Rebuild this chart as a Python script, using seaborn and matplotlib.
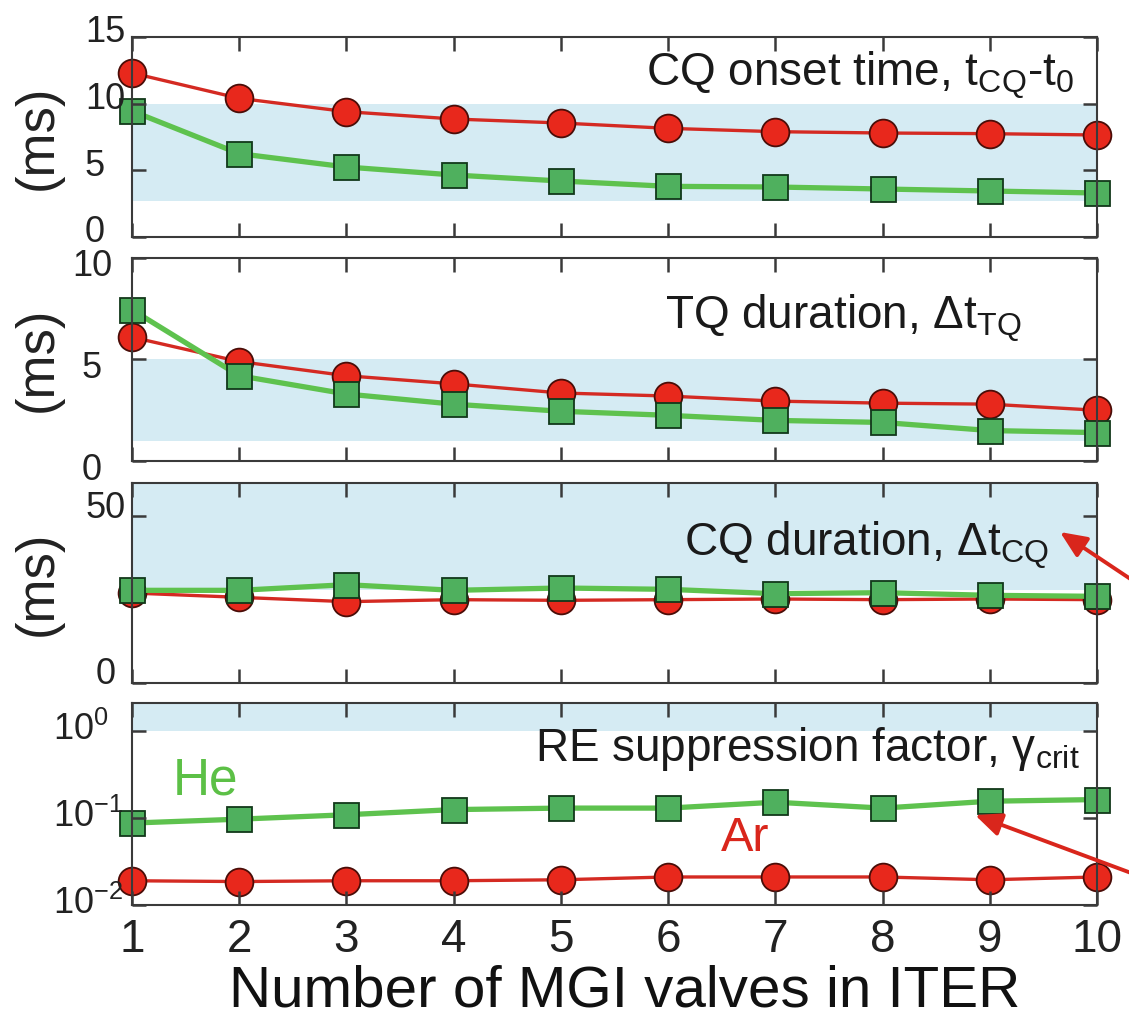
import matplotlib
matplotlib.use("Agg")
import matplotlib.pyplot as plt
from matplotlib.patches import FancyArrowPatch
from matplotlib.ticker import NullLocator
from matplotlib.transforms import ScaledTranslation
import seaborn as sns

# ---- data -----------------------------------------------------------------
valves = [1, 2, 3, 4, 5, 6, 7, 8, 9, 10]

cq_onset_ar = [12.3, 10.4, 9.4, 8.85, 8.55, 8.15, 7.9, 7.8, 7.75, 7.65]
cq_onset_he = [9.45, 6.25, 5.25, 4.65, 4.2, 3.8, 3.75, 3.6, 3.45, 3.3]

tq_dur_ar = [6.1, 4.9, 4.2, 3.8, 3.35, 3.2, 2.95, 2.85, 2.8, 2.5]
tq_dur_he = [7.45, 4.2, 3.3, 2.8, 2.45, 2.25, 2.0, 1.9, 1.5, 1.4]

cq_dur_ar = [27.0, 25.7, 24.4, 25.0, 24.8, 25.0, 25.2, 25.0, 25.2, 25.0]
cq_dur_he = [27.8, 27.8, 29.5, 27.8, 28.5, 28.1, 26.8, 27.1, 26.3, 26.0]

gamma_ar = [0.019, 0.0186, 0.019, 0.019, 0.0195, 0.021, 0.021, 0.021, 0.0195, 0.021]
gamma_he = [0.0875, 0.097, 0.109, 0.125, 0.13, 0.13, 0.152, 0.13, 0.156, 0.163]

# acceptable windows (shaded bands)
onset_window = (2.7, 10.0)
tq_window = (1.0, 5.0)
cq_window = (28.0, 60.0)
gamma_window = (1.0, 2.1)

panel_titles = [
    r"CQ onset time, t$_{\mathregular{CQ}}$-t$_{\mathregular{0}}$",
    r"TQ duration, Δt$_{\mathregular{TQ}}$",
    r"CQ duration, Δt$_{\mathregular{CQ}}$",
    r"RE suppression factor, γ$_{\mathregular{crit}}$",
]
x_label = "Number of MGI valves in ITER"
y_label = "(ms)"

# ---- style ----------------------------------------------------------------
sns.set_theme(style="ticks")
plt.rcParams["font.family"] = ["Liberation Sans", "DejaVu Sans"]
plt.rcParams["mathtext.fontset"] = "custom"
plt.rcParams["mathtext.rm"] = "Liberation Sans"
plt.rcParams["mathtext.it"] = "Liberation Sans:italic"
plt.rcParams["mathtext.bf"] = "Liberation Sans:bold"
plt.rcParams["axes.unicode_minus"] = True

RED_LINE = "#d42a22"
RED_FILL = "#e8281c"
RED_EDGE = "#4a0d08"
GRN_LINE = "#5ec24e"
GRN_FILL = "#4fb05e"
GRN_EDGE = "#12381a"
BAND = "#d5ebf3"
SPINE = "#3a3a3a"
ARROW = "#d9261c"

W, H = 1129, 1022
fig = plt.figure(figsize=(W / 100, H / 100), dpi=100)
fig.patch.set_facecolor("white")

left, right = 132, 1097
panels_px = [(37, 237), (258, 461), (483, 683), (703, 905)]
axes = []
for top, bot in panels_px:
    ax = fig.add_axes([left / W, (H - bot) / H, (right - left) / W, (bot - top) / H])
    axes.append(ax)

series = [
    (cq_onset_ar, cq_onset_he, onset_window, (0, 15), [0, 5, 10, 15]),
    (tq_dur_ar, tq_dur_he, tq_window, (0, 10), [0, 5, 10]),
    (cq_dur_ar, cq_dur_he, cq_window, (0, 60), [0, 50]),
    (gamma_ar, gamma_he, gamma_window, (0.01, 2.1), [0.01, 0.1, 1]),
]

title_pos = [(0.977, 0.81), (0.922, 0.70), (0.951, 0.69), (0.982, 0.77)]
# y tick label placement per panel: (alignment, pad in px, vertical shift in px)
ylab_place = [("left", 47, 8), ("center", 40, -5), ("center", 26, 12), ("left", 79, 5)]

for i, (ax, (ar, he, band, ylim, yticks)) in enumerate(zip(axes, series)):
    ax.set_facecolor("white")
    if i == 3:
        ax.set_yscale("log")
    ax.axhspan(band[0], band[1], color=BAND, lw=0, zorder=0)

    sns.lineplot(x=valves, y=ar, ax=ax, color=RED_LINE, lw=2.4,
                 marker="o", markersize=20, markerfacecolor=RED_FILL,
                 markeredgecolor=RED_EDGE, markeredgewidth=1.3,
                 clip_on=False, zorder=3)
    sns.lineplot(x=valves, y=he, ax=ax, color=GRN_LINE, lw=3.8,
                 marker="s", markersize=18, markerfacecolor=GRN_FILL,
                 markeredgecolor=GRN_EDGE, markeredgewidth=1.3,
                 clip_on=False, zorder=4)

    ax.set_xlim(1, 10)
    ax.set_ylim(*ylim)
    ax.set_xticks(valves)
    ax.set_yticks(yticks)
    if i == 3:
        ax.yaxis.set_minor_locator(NullLocator())
    ha, pad_px, dy = ylab_place[i]
    ax.tick_params(axis="both", which="major", direction="in", length=10,
                   width=1.8, color=SPINE, top=True, right=True,
                   bottom=True, left=True, labelsize=26, labelcolor="#222222")
    ax.tick_params(axis="y", pad=pad_px * 0.72)
    for lbl in ax.get_yticklabels():
        lbl.set_horizontalalignment(ha)
        lbl.set_transform(lbl.get_transform() +
                          ScaledTranslation(0, dy / 100, fig.dpi_scale_trans))
    ax.xaxis.set_zorder(6)
    ax.yaxis.set_zorder(6)
    for sp in ax.spines.values():
        sp.set_visible(True)
        sp.set_color(SPINE)
        sp.set_linewidth(1.5)
        sp.set_zorder(5)

    if i < 3:
        ax.set_xticklabels([])
        ax.set_xlabel("")
        ax.set_ylabel(y_label, fontsize=38, color="#222222")
        ax.yaxis.set_label_coords(-0.072, 0.5)
    else:
        ax.set_ylabel("")
        ax.tick_params(axis="x", labelsize=33, pad=9)
        ax.set_xlabel(x_label, fontsize=42, color="#111111", labelpad=2)
        ax.xaxis.label.set_x(0.51)

    tx, ty = title_pos[i]
    ax.text(tx, ty, panel_titles[i], transform=ax.transAxes, ha="right",
            va="center", fontsize=33, color="#1a1a1a", zorder=6)

# gas labels in the bottom panel
axes[3].text(0.0757, 0.614, "He", transform=axes[3].transAxes, ha="center",
             va="center", fontsize=37, color="#5cc046", zorder=6)
axes[3].text(0.635, 0.327, "Ar", transform=axes[3].transAxes, ha="center",
             va="center", fontsize=35, color="#d9261c", zorder=6)

# pointer arrows coming in from the right margin
for tail, head in [((1150, H - 592), (1060, H - 532)),
                   ((1150, H - 880), (975, H - 815))]:
    arr = FancyArrowPatch((tail[0] / W, tail[1] / H), (head[0] / W, head[1] / H),
                          transform=fig.transFigure,
                          arrowstyle="-|>,head_length=0.8,head_width=0.35",
                          mutation_scale=20, lw=2.8, color=ARROW,
                          shrinkA=0, shrinkB=0, zorder=10)
    fig.add_artist(arr)

fig.savefig("out.png", dpi=100)
